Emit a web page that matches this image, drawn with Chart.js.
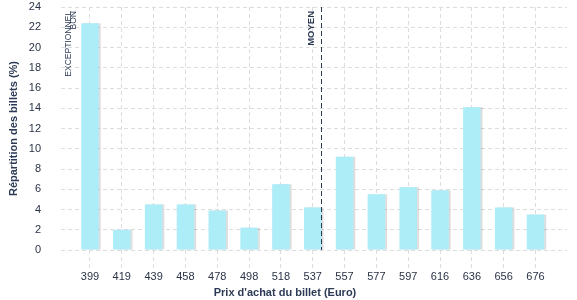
<!DOCTYPE html>
<html>
<head>
<meta charset="utf-8">
<script src="https://cdn.jsdelivr.net/npm/chart.js@4/dist/chart.umd.min.js"></script>
<style>
  html, body { margin: 0; padding: 0; background: #fff; }
  #wrap { width: 577px; height: 300px; }
</style>
</head>
<body>
<div id="wrap"><canvas id="myChart" width="577" height="300"></canvas></div>
<script>
// prices (tick labels on x) and share of tickets (%)
var prices = ['399', '419', '439', '458', '478', '498', '518', '537', '557', '577', '597', '616', '636', '656', '676'];
var shares = [22.4, 2.0, 4.5, 4.5, 3.9, 2.2, 6.5, 4.2, 9.2, 5.5, 6.2, 5.9, 14.1, 4.2, 3.5];
var yTicks = [0, 2, 4, 6, 8, 10, 12, 14, 16, 18, 20, 22, 24];

// reference markers, in x index units
var markerNames = ['EXCEPTIONNEL', 'BON', 'MOYEN'];
var markerPos = [-0.4, -0.25, 7.27];
var markerLine = [false, false, true];
var markerFont = ['8.5px ', '8.5px ', 'bold 9.5px '];

var textColor = '#2b3347';
var navy = '#2c3a55';
var fontFamily = '"Liberation Sans", Arial, sans-serif';

// light shadow on the right of each bar
var barShadow = {
    id: 'barShadow',
    beforeDatasetsDraw: function (chart) {
        var ctx = chart.ctx;
        ctx.save();
        ctx.shadowColor = 'rgba(0,0,0,0.13)';
        ctx.shadowOffsetX = 2;
        ctx.shadowOffsetY = 0;
        ctx.shadowBlur = 0;
    },
    afterDatasetsDraw: function (chart) {
        chart.ctx.restore();
    }
};

// marker lines + rotated labels, x axis title
var markers = {
    id: 'markers',
    afterDatasetsDraw: function (chart) {
        var ctx = chart.ctx;
        var area = chart.chartArea;
        var xs = chart.scales.x;
        ctx.save();
        markerNames.forEach(function (name, i) {
            var px = Math.round(xs.getPixelForValue(markerPos[i])) + 0.5;
            if (markerLine[i]) {
                ctx.strokeStyle = navy;
                ctx.lineWidth = 1;
                ctx.setLineDash([5, 3]);
                ctx.beginPath();
                ctx.moveTo(px, area.top);
                ctx.lineTo(px, area.bottom);
                ctx.stroke();
            }
            ctx.save();
            ctx.translate(px - 5, area.top + 4);
            ctx.rotate(-Math.PI / 2);
            ctx.textAlign = 'right';
            ctx.textBaseline = 'bottom';
            ctx.fillStyle = navy;
            ctx.font = markerFont[i] + fontFamily;
            ctx.fillText(name, 0, 0);
            ctx.restore();
        });
        ctx.fillStyle = navy;
        ctx.font = 'bold 11px ' + fontFamily;
        ctx.textAlign = 'center';
        ctx.textBaseline = 'middle';
        ctx.fillText("Prix d'achat du billet (Euro)", 285, 293);
        ctx.restore();
    }
};

var points = shares.map(function (v, i) { return { x: i, y: v }; });

var ctx = document.getElementById('myChart').getContext('2d');
var myChart = new Chart(ctx, {
    type: 'bar',
    data: {
        datasets: [{
            label: 'Répartition',
            data: points,
            backgroundColor: '#adedf8',
            borderWidth: 0,
            categoryPercentage: 1,
            barPercentage: 0.55
        }]
    },
    options: {
        responsive: false,
        animation: false,
        layout: { padding: { top: 7, right: 10, bottom: 17, left: 0 } },
        plugins: {
            legend: { display: false },
            tooltip: { enabled: false }
        },
        scales: {
            x: {
                type: 'linear',
                offset: false,
                min: -0.91,
                max: 14.99,
                border: { display: false, dash: [4, 3] },
                grid: {
                    offset: false,
                    color: '#dddddd',
                    tickColor: '#dddddd',
                    tickBorderDash: [4, 3],
                    tickLength: 18
                },
                ticks: {
                    stepSize: 1,
                    includeBounds: false,
                    autoSkip: false,
                    maxRotation: 0,
                    padding: 2,
                    color: textColor,
                    font: { family: fontFamily, size: 11 },
                    callback: function (v) {
                        return Number.isInteger(v) && prices[v] ? prices[v] : '';
                    }
                },
                afterFit: function (scale) { scale.height = 33; }
            },
            y: {
                min: 0,
                max: 24,
                border: { display: false, dash: [4, 3] },
                grid: {
                    color: '#dddddd',
                    drawTicks: false
                },
                afterBuildTicks: function (scale) {
                    scale.ticks = yTicks.map(function (v) { return { value: v }; });
                },
                ticks: {
                    padding: 20,
                    color: textColor,
                    font: { family: fontFamily, size: 11 }
                },
                title: {
                    display: true,
                    text: 'Répartition des billets (%)',
                    color: navy,
                    padding: { top: 7, bottom: 0 },
                    font: { family: fontFamily, size: 11, weight: 'bold' }
                },
                afterFit: function (scale) {
                    scale.width = 61;
                    scale.paddingTop = 7;
                    scale.paddingBottom = 7;
                }
            }
        }
    },
    plugins: [barShadow, markers]
});
</script>
</body>
</html>
